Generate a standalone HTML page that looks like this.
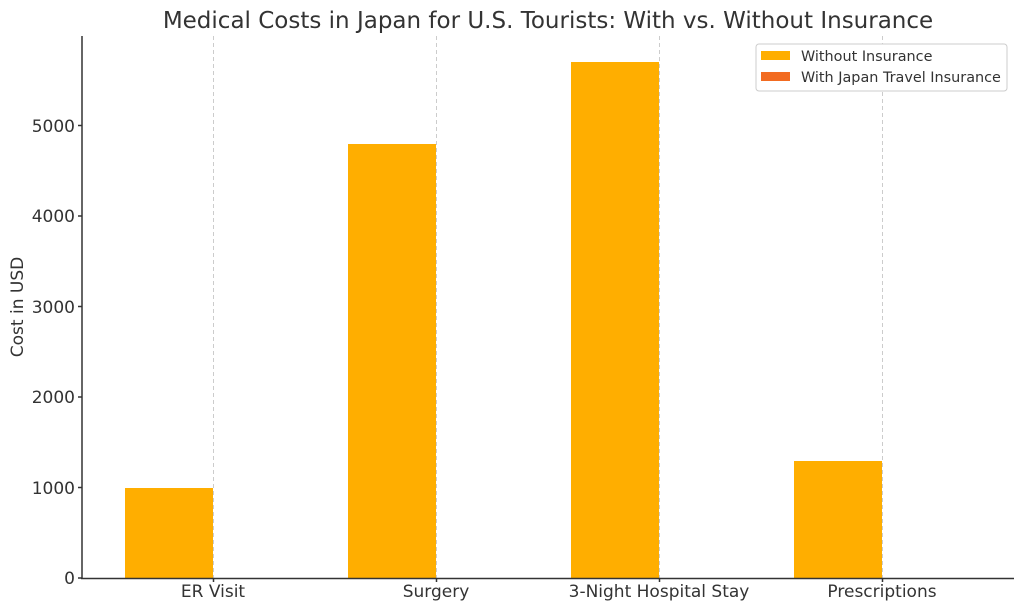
<!DOCTYPE html>
<html><head><meta charset="utf-8"><style>
html,body{margin:0;padding:0;background:#fff;}
svg{display:block;font-family:"DejaVu Sans","Liberation Sans",sans-serif;}
</style></head><body>
<svg width="1024" height="611" viewBox="0 0 1024 611">
<rect width="1024" height="611" fill="#fff"/>
<text x="548" y="28" font-size="23" fill="#333" text-anchor="middle">Medical Costs in Japan for U.S. Tourists: With vs. Without Insurance</text>
<g stroke="#ccc" stroke-width="1" stroke-dasharray="4,3">
<line x1="213.5" y1="36" x2="213.5" y2="578"/>
<line x1="436.5" y1="36" x2="436.5" y2="578"/>
<line x1="659.5" y1="36" x2="659.5" y2="578"/>
<line x1="882.5" y1="36" x2="882.5" y2="578"/>
</g>
<g fill="#FFAE00">
<rect x="125" y="488" width="88" height="90"/>
<rect x="348" y="144" width="88" height="434"/>
<rect x="571" y="62" width="88" height="516"/>
<rect x="794" y="461" width="88" height="117"/>
</g>
<g stroke="#333" stroke-width="1.5">
<line x1="82" y1="36" x2="82" y2="578.5"/>
<line x1="81" y1="578.5" x2="1014" y2="578.5"/>
<line x1="78" y1="578" x2="82" y2="578"/>
<line x1="78" y1="487.5" x2="82" y2="487.5"/>
<line x1="78" y1="397" x2="82" y2="397"/>
<line x1="78" y1="306.5" x2="82" y2="306.5"/>
<line x1="78" y1="216" x2="82" y2="216"/>
<line x1="78" y1="125.5" x2="82" y2="125.5"/>
<line x1="213.5" y1="578" x2="213.5" y2="582"/>
<line x1="436.5" y1="578" x2="436.5" y2="582"/>
<line x1="659.5" y1="578" x2="659.5" y2="582"/>
<line x1="882.5" y1="578" x2="882.5" y2="582"/>
</g>
<g font-size="17" fill="#333" text-anchor="end">
<text x="75" y="584">0</text>
<text x="75" y="494">1000</text>
<text x="75" y="403">2000</text>
<text x="75" y="313">3000</text>
<text x="75" y="222">4000</text>
<text x="75" y="132">5000</text>
</g>
<g font-size="17" fill="#333" text-anchor="middle">
<text x="213" y="597">ER Visit</text>
<text x="436" y="597">Surgery</text>
<text x="659" y="597">3-Night Hospital Stay</text>
<text x="882" y="597">Prescriptions</text>
</g>
<text transform="translate(23,307) rotate(-90)" font-size="17" fill="#333" text-anchor="middle">Cost in USD</text>
<rect x="756" y="44" width="251" height="47" rx="3" fill="#fff" stroke="#ccc" stroke-width="1"/>
<rect x="761" y="51" width="29" height="9" fill="#FFAE00"/>
<rect x="761" y="72" width="29" height="9" fill="#F26B21"/>
<g font-size="14.4" fill="#333">
<text x="801" y="61">Without Insurance</text>
<text x="801" y="82">With Japan Travel Insurance</text>
</g>
</svg>
</body></html>
